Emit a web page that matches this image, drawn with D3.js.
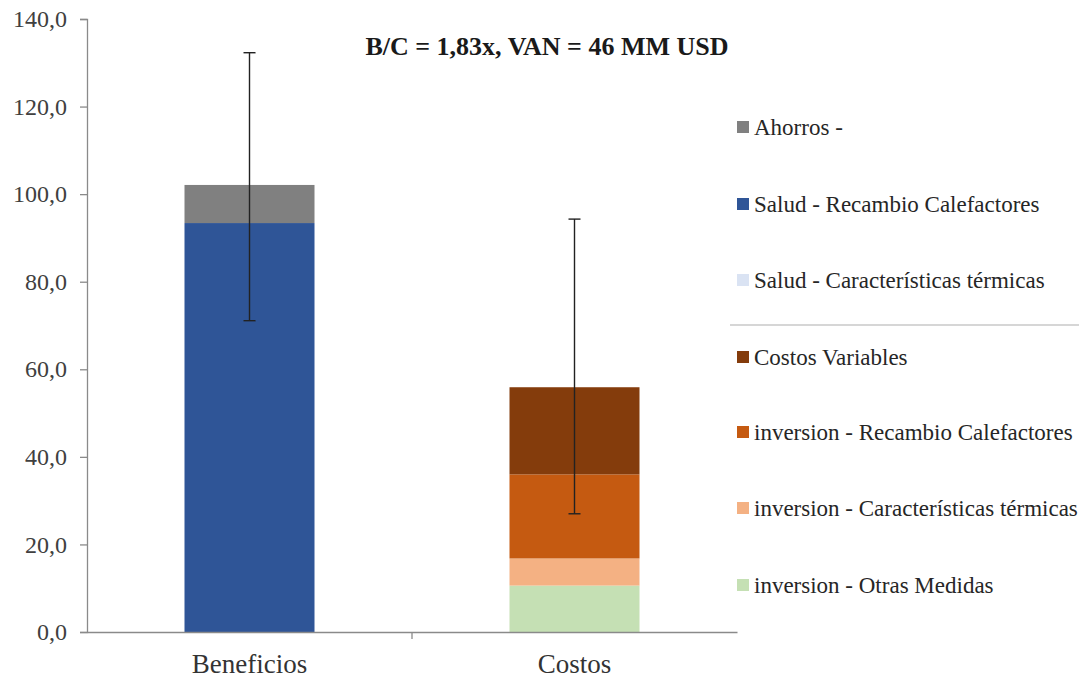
<!DOCTYPE html>
<html>
<head>
<meta charset="utf-8">
<script src="https://cdn.jsdelivr.net/npm/d3@7"></script>
<style>
  html, body { margin: 0; padding: 0; background: #fff; overflow: hidden; }
  svg { display: block; }
  .serif { font-family: "Liberation Serif", "Tinos", "Times New Roman", Times, "DejaVu Serif", serif; }
</style>
</head>
<body>
<svg id="chart" width="1079" height="678"></svg>
<script>
// Categories on the x axis
const categories = ["Beneficios", "Costos"];

// Stacked series, bottom to top within each bar (values in MM USD)
const seriesNames = [
  "inversion - Otras Medidas",
  "inversion - Características térmicas",
  "inversion - Recambio Calefactores",
  "Costos Variables",
  "Salud - Características térmicas",
  "Salud - Recambio Calefactores",
  "Ahorros -"
];
const seriesColors = [
  "#C5E0B4",
  "#F4B183",
  "#C55A11",
  "#843C0C",
  "#DAE3F3",
  "#2F5597",
  "#808080"
];
// One value per category: [Beneficios, Costos]
const otrasMedidas         = [0, 10.6];
const invCaracteristicas   = [0, 6.2];
const invRecambio          = [0, 19.2];
const costosVariables      = [0, 19.9];
const saludCaracteristicas = [0, 0];
const saludRecambio        = [93.4, 0];
const ahorros              = [8.7, 0];

// Error bar ranges per category
const errLow  = [71.1, 27.0];
const errHigh = [132.3, 94.3];

// Legend order as listed beside the plot
const legendTop    = ["Ahorros -", "Salud - Recambio Calefactores", "Salud - Características térmicas"];
const legendBottom = ["Costos Variables", "inversion - Recambio Calefactores", "inversion - Características térmicas", "inversion - Otras Medidas"];

const yTicks = [0, 20, 40, 60, 80, 100, 120, 140];
const title = "B/C = 1,83x, VAN = 46 MM USD";

const seriesValues = [otrasMedidas, invCaracteristicas, invRecambio, costosVariables,
                      saludCaracteristicas, saludRecambio, ahorros];

// Build rows for d3.stack
const rows = categories.map((c, i) => {
  const r = { category: c };
  seriesNames.forEach((s, k) => { r[s] = seriesValues[k][i]; });
  return r;
});
const stacked = d3.stack().keys(seriesNames)(rows);
const color = d3.scaleOrdinal().domain(seriesNames).range(seriesColors);

const svg = d3.select("#chart");

const x = d3.scaleBand().domain(categories).range([87, 737]).paddingInner(0.6).paddingOuter(0.3);
const y = d3.scaleLinear().domain([0, 140]).range([632, 19]);

// Bars
svg.append("g").selectAll("g")
  .data(stacked)
  .join("g")
  .attr("fill", d => color(d.key))
  .selectAll("rect")
  .data(d => d)
  .join("rect")
  .attr("x", d => x(d.data.category))
  .attr("width", x.bandwidth())
  .attr("y", d => y(d[1]))
  .attr("height", d => y(d[0]) - y(d[1]));

// Y axis
const yAxis = svg.append("g")
  .attr("transform", "translate(87,0)")
  .call(d3.axisLeft(y).tickValues(yTicks).tickSize(7).tickPadding(13)
    .tickFormat(v => d3.format(".1f")(v).replace(".", ",")));
yAxis.attr("font-family", null);
yAxis.select(".domain").attr("stroke", "#8a8a8a").attr("stroke-width", 1.3);
yAxis.selectAll(".tick line").attr("stroke", "#8a8a8a").attr("stroke-width", 1.3);
yAxis.selectAll(".tick text")
  .attr("class", "serif").attr("font-size", 24).attr("fill", "#404040");

// X axis
const xAxis = svg.append("g")
  .attr("transform", `translate(0,${y(0)})`)
  .call(d3.axisBottom(x).tickSize(0).tickPadding(22));
xAxis.attr("font-family", null);
xAxis.select(".domain").attr("stroke", "#8a8a8a").attr("stroke-width", 1.3);
xAxis.selectAll(".tick text")
  .attr("class", "serif").attr("font-size", 27).attr("fill", "#333");
// Divider tick between the two categories
const mid = (x(categories[0]) + x.bandwidth() + x(categories[1])) / 2;
xAxis.append("line").attr("x1", mid).attr("x2", mid).attr("y1", 0).attr("y2", 7)
  .attr("stroke", "#8a8a8a").attr("stroke-width", 1.3);

// Error bars
const eg = svg.append("g").attr("stroke", "#222").attr("stroke-width", 1.4);
categories.forEach((c, i) => {
  const cx = x(c) + x.bandwidth() / 2;
  eg.append("line").attr("x1", cx).attr("x2", cx).attr("y1", y(errHigh[i])).attr("y2", y(errLow[i]));
  [errHigh[i], errLow[i]].forEach(v => {
    eg.append("line").attr("x1", cx - 6).attr("x2", cx + 6).attr("y1", y(v)).attr("y2", y(v));
  });
});

// Title
svg.append("text")
  .attr("class", "serif")
  .attr("x", 547).attr("y", 55)
  .attr("text-anchor", "middle")
  .attr("font-size", 26).attr("font-weight", "bold")
  .attr("fill", "#1a1a1a")
  .text(title);

// Legend
const legendY = [127, 204, 280, 357, 432, 508, 585];
const legendItems = legendTop.concat(legendBottom);
const lg = svg.append("g");
legendItems.forEach((name, i) => {
  const cy = legendY[i];
  lg.append("rect").attr("x", 737).attr("y", cy - 6).attr("width", 12).attr("height", 12)
    .attr("fill", color(name));
  lg.append("text").attr("class", "serif").attr("x", 754).attr("y", cy + 8)
    .attr("font-size", 23).attr("fill", "#262626")
    .text(name);
});
lg.append("line").attr("x1", 730).attr("x2", 1079).attr("y1", 325).attr("y2", 325)
  .attr("stroke", "#c8c8c8").attr("stroke-width", 1.6);
</script>
</body>
</html>
